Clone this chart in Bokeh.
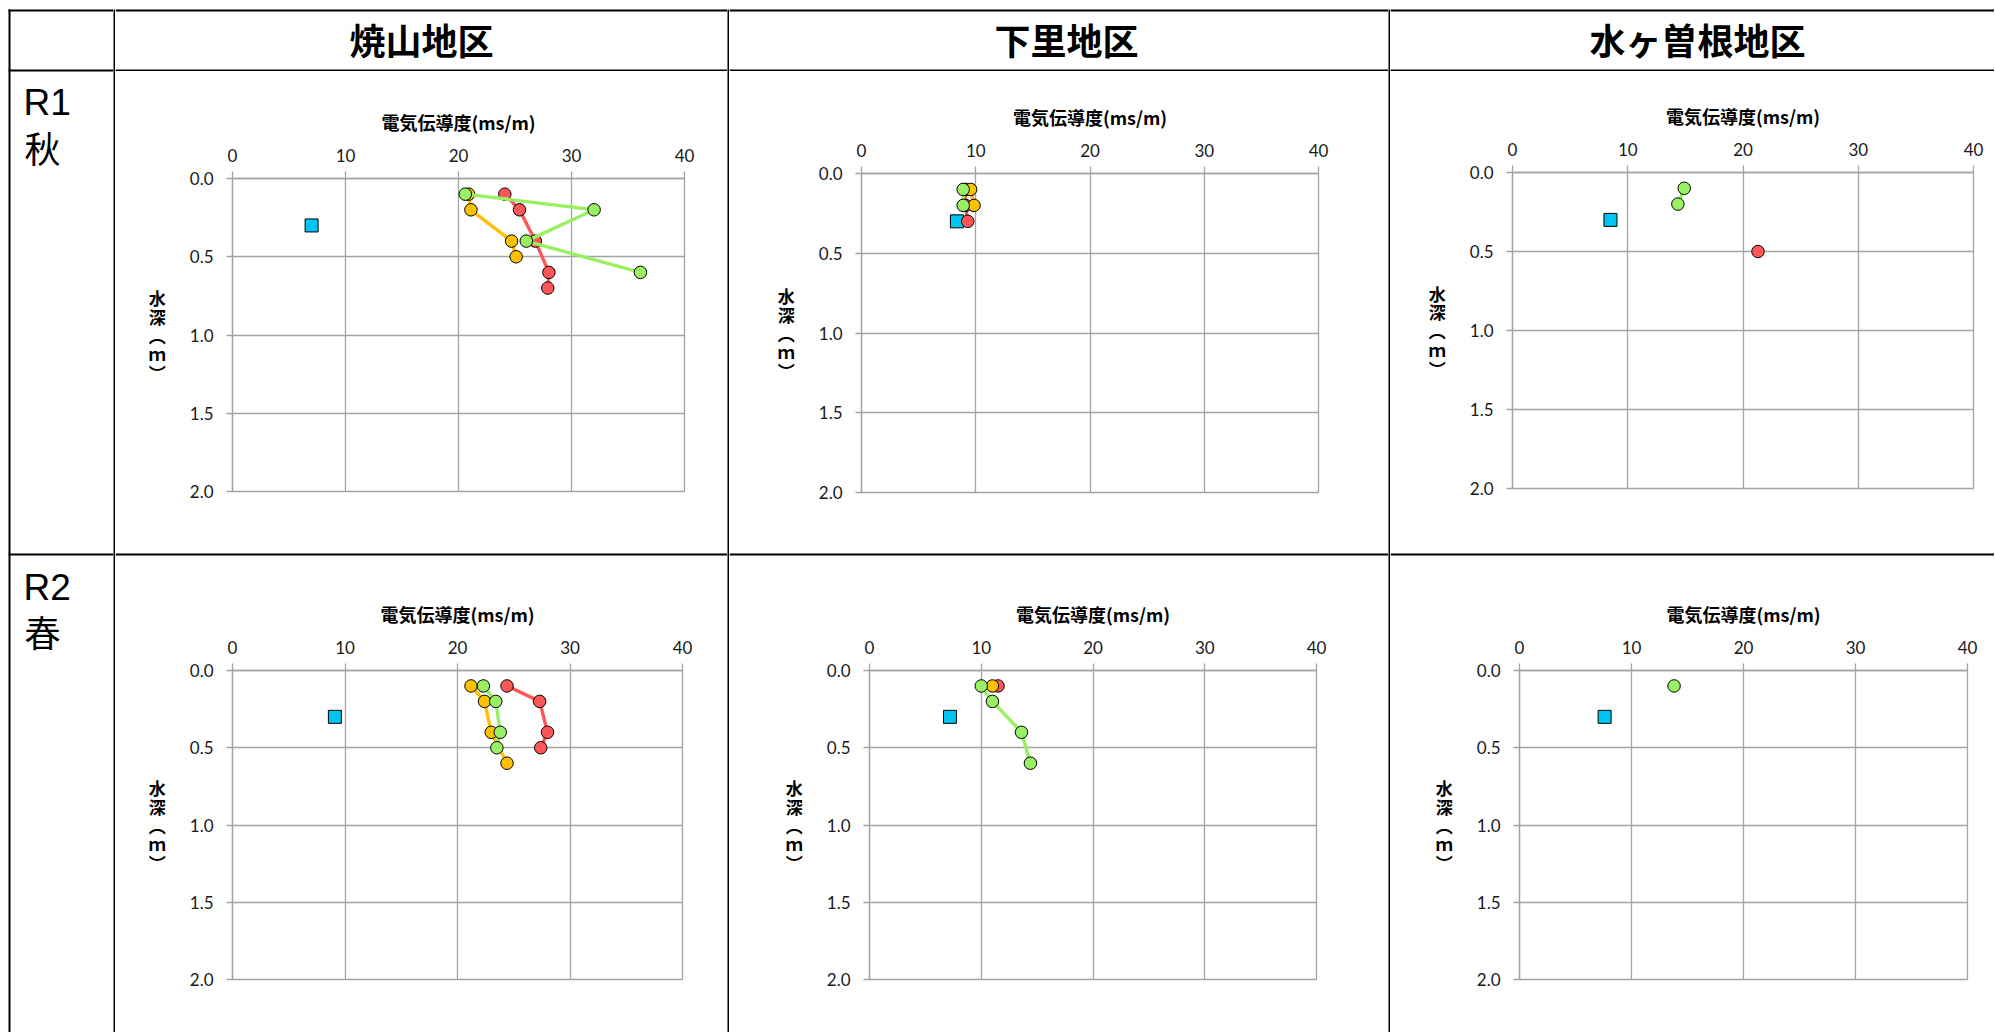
from bokeh.plotting import figure
from bokeh.layouts import row, column
from bokeh.models import Range1d, FixedTicker, PrintfTickFormatter
from bokeh.core.properties import value
from bokeh.embed import file_html
from bokeh.resources import INLINE

# ------------------------------------------------------------------ data
DISTRICTS = ["焼山地区", "下里地区", "水ヶ曽根地区"]
SEASON_CODES = ["R1", "R2"]
SEASON_NAMES = ["秋", "春"]
X_TICKS = [0, 10, 20, 30, 40]
Y_TICKS = [0.0, 0.5, 1.0, 1.5, 2.0]
X_TITLE = "電気伝導度(ms/m)"
Y_TITLE = "水深（ｍ）"

# R1 秋 / 焼山地区
r1_yaki_red_depth = [0.1, 0.2, 0.4, 0.6, 0.7]
r1_yaki_red_ec = [24.1, 25.4, 26.8, 28.0, 27.9]
r1_yaki_org_depth = [0.1, 0.2, 0.4, 0.5]
r1_yaki_org_ec = [20.9, 21.1, 24.7, 25.1]
r1_yaki_grn_depth = [0.1, 0.2, 0.4, 0.6]
r1_yaki_grn_ec = [20.6, 32.0, 26.0, 36.1]
r1_yaki_sq_depth = [0.3]
r1_yaki_sq_ec = [7.0]

# R1 秋 / 下里地区
r1_shimo_red_depth = [0.1, 0.2, 0.3]
r1_shimo_red_ec = [9.1, 9.1, 9.3]
r1_shimo_org_depth = [0.1, 0.2]
r1_shimo_org_ec = [9.55, 9.85]
r1_shimo_grn_depth = [0.1, 0.2]
r1_shimo_grn_ec = [8.9, 8.9]
r1_shimo_sq_depth = [0.3]
r1_shimo_sq_ec = [8.35]

# R1 秋 / 水ヶ曽根地区
r1_mizu_red_depth = [0.5]
r1_mizu_red_ec = [21.3]
r1_mizu_org_depth = []
r1_mizu_org_ec = []
r1_mizu_grn_depth = [0.1, 0.2]
r1_mizu_grn_ec = [14.9, 14.35]
r1_mizu_sq_depth = [0.3]
r1_mizu_sq_ec = [8.5]

# R2 春 / 焼山地区
r2_yaki_red_depth = [0.1, 0.2, 0.4, 0.5]
r2_yaki_red_ec = [24.4, 27.3, 28.0, 27.4]
r2_yaki_org_depth = [0.1, 0.2, 0.4, 0.6]
r2_yaki_org_ec = [21.2, 22.4, 23.0, 24.4]
r2_yaki_grn_depth = [0.1, 0.2, 0.4, 0.5]
r2_yaki_grn_ec = [22.3, 23.4, 23.8, 23.5]
r2_yaki_sq_depth = [0.3]
r2_yaki_sq_ec = [9.1]

# R2 春 / 下里地区
r2_shimo_red_depth = [0.1]
r2_shimo_red_ec = [11.5]
r2_shimo_org_depth = [0.1]
r2_shimo_org_ec = [11.0]
r2_shimo_grn_depth = [0.1, 0.2, 0.4, 0.6]
r2_shimo_grn_ec = [10.0, 11.0, 13.6, 14.4]
r2_shimo_sq_depth = [0.3]
r2_shimo_sq_ec = [7.2]

# R2 春 / 水ヶ曽根地区
r2_mizu_red_depth = []
r2_mizu_red_ec = []
r2_mizu_org_depth = []
r2_mizu_org_ec = []
r2_mizu_grn_depth = [0.1]
r2_mizu_grn_ec = [13.8]
r2_mizu_sq_depth = [0.3]
r2_mizu_sq_ec = [7.6]

CHARTS = [
    [  # R1
        dict(red=(r1_yaki_red_ec, r1_yaki_red_depth), org=(r1_yaki_org_ec, r1_yaki_org_depth),
             grn=(r1_yaki_grn_ec, r1_yaki_grn_depth), sq=(r1_yaki_sq_ec, r1_yaki_sq_depth)),
        dict(red=(r1_shimo_red_ec, r1_shimo_red_depth), org=(r1_shimo_org_ec, r1_shimo_org_depth),
             grn=(r1_shimo_grn_ec, r1_shimo_grn_depth), sq=(r1_shimo_sq_ec, r1_shimo_sq_depth)),
        dict(red=(r1_mizu_red_ec, r1_mizu_red_depth), org=(r1_mizu_org_ec, r1_mizu_org_depth),
             grn=(r1_mizu_grn_ec, r1_mizu_grn_depth), sq=(r1_mizu_sq_ec, r1_mizu_sq_depth)),
    ],
    [  # R2
        dict(red=(r2_yaki_red_ec, r2_yaki_red_depth), org=(r2_yaki_org_ec, r2_yaki_org_depth),
             grn=(r2_yaki_grn_ec, r2_yaki_grn_depth), sq=(r2_yaki_sq_ec, r2_yaki_sq_depth)),
        dict(red=(r2_shimo_red_ec, r2_shimo_red_depth), org=(r2_shimo_org_ec, r2_shimo_org_depth),
             grn=(r2_shimo_grn_ec, r2_shimo_grn_depth), sq=(r2_shimo_sq_ec, r2_shimo_sq_depth)),
        dict(red=(r2_mizu_red_ec, r2_mizu_red_depth), org=(r2_mizu_org_ec, r2_mizu_org_depth),
             grn=(r2_mizu_grn_ec, r2_mizu_grn_depth), sq=(r2_mizu_sq_ec, r2_mizu_sq_depth)),
    ],
]

# ------------------------------------------------------------------ style / layout
RED = "#FF5757"
ORANGE = "#FFC000"
GREEN = "#99F064"
BLUE = "#00C4F4"
GRID = "#A3A3A3"
JP = "Noto Sans CJK JP"

H = 1032                    # total height (page rows 0..1032)
COL0_W = 113                # first column figure (page x 0..113)
VBAR_W = 2
COL_W = [612, 659, 604]     # chart columns
HEAD_H = 71                 # page y 0..71
R1_H = 464                  # page y 71..535
DIV_H = 40                  # page y 535..575
R2_H = H - HEAD_H - R1_H - DIV_H   # page y 575..1032
HEAD_CX = [306, 337, 307]
HEAD_BASE = 38              # text anchor row for header titles
SEASON_BASE = [(102, 146), (587, 630)]
# (min_border_left, right, top, bottom)
BORDERS_R1 = [(117, 43, 107, 44), (132, 70, 102, 43), (122, 21, 101, 47)]
BORDERS_R2 = [(117, 45, 95, 53), (140, 72, 95, 53), (129, 27, 95, 53)]


def blank(w, h):
    return figure(width=w, height=h, toolbar_location=None, output_backend="svg",
                  x_axis_type=None, y_axis_type=None, title_location=None,
                  frame_align=False,
                  min_border=0, min_border_left=0, min_border_right=0,
                  min_border_top=0, min_border_bottom=0,
                  x_range=Range1d(0, w), y_range=Range1d(0, h),
                  background_fill_color="white", border_fill_color="white",
                  outline_line_color=None)


def hline(p, w, h, y0, y1, x0=0):
    # black band between rows y0..y1 (measured from the top of the figure)
    p.quad(left=[x0], right=[w], top=[h - y0], bottom=[h - y1],
           fill_color="black", line_color=None)


def vbar(top):
    return figure(width=VBAR_W, height=H, toolbar_location=None, output_backend="svg",
                  x_axis_type=None, y_axis_type=None, title_location=None,
                  frame_align=False,
                  min_border=0, min_border_left=0, min_border_right=0,
                  min_border_top=top, min_border_bottom=0,
                  background_fill_color="black", border_fill_color="white",
                  outline_line_color=None)


def first_column():
    p = blank(COL0_W, H)
    p.quad(left=[8], right=[10], top=[H - 9], bottom=[0], fill_color="black", line_color=None)
    for y0 in (9, 69, 553):
        hline(p, COL0_W, H, y0, y0 + 2, x0=8)
    for i in range(2):
        b1, b2 = SEASON_BASE[i]
        p.text(x=[23], y=[H - b1], text=[SEASON_CODES[i]], text_align="left",
               text_baseline="alphabetic", text_font=value("Liberation Sans"),
               text_font_size="37px", text_color="black")
        p.text(x=[24], y=[H - b2], text=[SEASON_NAMES[i]], text_align="left",
               text_baseline="alphabetic", text_font=value(JP),
               text_font_size="36px", text_color="black")
    return p


def head_cell(w, label, cx):
    p = blank(w, HEAD_H)
    hline(p, w, HEAD_H, 9, 11)
    hline(p, w, HEAD_H, 69, 71)
    p.text(x=[cx], y=[HEAD_H - HEAD_BASE], text=[label], text_align="center",
           text_baseline="alphabetic", text_font=value(JP), text_font_style="bold",
           text_font_size="36px", text_color="black")
    return p


def divider(w):
    p = blank(w, DIV_H)
    hline(p, w, DIV_H, 18, 20)
    return p


def stacked(s):
    vert = {"（": "︵", "）": "︶", "(": "︵", ")": "︶"}
    return "\n".join(vert.get(c, c) for c in s)


def chart_cell(w, h, borders, data):
    bl, br, bt, bb = borders
    p = figure(width=w, height=h, x_range=Range1d(0, 40), y_range=Range1d(2.0, 0.0),
               x_axis_location="above", toolbar_location=None, output_backend="svg",
               title_location=None, frame_align=False,
               min_border_left=bl, min_border_right=br, min_border_top=bt,
               min_border_bottom=bb, background_fill_color="white",
               border_fill_color="white", outline_line_color=GRID)
    p.outline_line_width = 1.3

    xa = p.xaxis[0]
    ya = p.yaxis[0]
    xa.ticker = FixedTicker(ticks=X_TICKS)
    ya.ticker = FixedTicker(ticks=Y_TICKS)
    ya.formatter = PrintfTickFormatter(format="%.1f")
    for ax in (xa, ya):
        ax.axis_line_color = GRID
        ax.axis_line_width = 1.3
        ax.major_tick_line_color = GRID
        ax.major_tick_line_width = 1.3
        ax.major_tick_in = 0
        ax.minor_tick_line_color = None
        ax.major_label_text_font = "Lato"
        ax.major_label_text_font_size = "17px"
        ax.major_label_text_color = "#1a1a1a"
        ax.axis_label_text_font = JP
        ax.axis_label_text_font_style = "bold"
        ax.axis_label_text_color = "black"
    xa.major_tick_out = 7
    ya.major_tick_out = 6
    xa.major_label_standoff = 10
    ya.major_label_standoff = 13
    xa.axis_label = X_TITLE
    xa.axis_label_text_font_size = "18px"
    xa.axis_label_standoff = 11
    ya.axis_label = stacked(Y_TITLE)
    ya.axis_label_orientation = "horizontal"
    ya.axis_label_text_font_size = "17px"
    ya.axis_label_text_line_height = 0.75
    ya.axis_label_standoff = 21

    p.xgrid.ticker = FixedTicker(ticks=X_TICKS)
    p.ygrid.ticker = FixedTicker(ticks=Y_TICKS)
    for g in (p.xgrid, p.ygrid):
        g.grid_line_color = GRID
        g.grid_line_width = 1.3

    sq_x, sq_y = data["sq"]
    if sq_x:
        p.scatter(x=sq_x, y=sq_y, marker="square", size=13, fill_color=BLUE,
                  line_color="black", line_width=1)
    for key, color in (("red", RED), ("org", ORANGE), ("grn", GREEN)):
        xs, ys = data[key]
        if len(xs) > 1:
            p.line(x=xs, y=ys, line_color=color, line_width=3.4,
                   line_join="round", line_cap="round")
        if xs:
            p.scatter(x=xs, y=ys, marker="circle", size=12.5, fill_color=color,
                      line_color="black", line_width=1)
    return p


kids = [first_column()]
for c in range(3):
    w = COL_W[c]
    col = column([
        head_cell(w, DISTRICTS[c], HEAD_CX[c]),
        chart_cell(w, R1_H, BORDERS_R1[c], CHARTS[0][c]),
        divider(w),
        chart_cell(w, R2_H, BORDERS_R2[c], CHARTS[1][c]),
    ], spacing=0)
    kids.append(vbar(9))
    kids.append(col)

page = row(kids, spacing=0)

open("out.html", "w").write(file_html(page, INLINE))
